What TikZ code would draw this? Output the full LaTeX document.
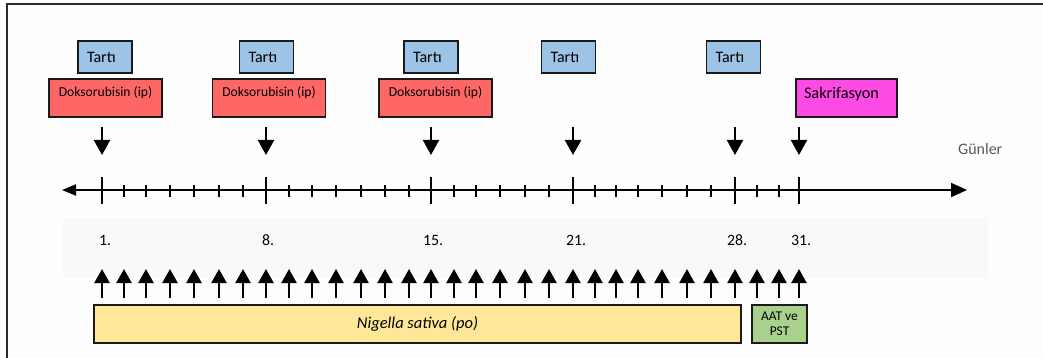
\documentclass[tikz,border=0pt]{standalone}
\usepackage{fontspec}
\setmainfont{Carlito}
\usetikzlibrary{arrows.meta}
\definecolor{tartiblue}{HTML}{9DC3E6}
\definecolor{doxred}{HTML}{FF6666}
\definecolor{sakmag}{HTML}{FF4BE6}
\definecolor{nsyellow}{HTML}{FFE699}
\definecolor{aatgreen}{HTML}{A9D18E}
\definecolor{bandgray}{HTML}{F9F9F9}
\definecolor{pagebg}{HTML}{FEFEFE}
\definecolor{framegray}{HTML}{2A2A2A}
\definecolor{labelgray}{HTML}{595959}
\definecolor{edgeblack}{HTML}{1A1A1A}
\tikzset{
  box/.style={draw=edgeblack, line width=1.3pt, inner sep=0pt, outer sep=0pt},
  tartibox/.style={box, fill=tartiblue, minimum width=54pt, minimum height=32pt,
    text width=36pt, inner xsep=9pt, align=left, font=\fontsize{16}{19}\selectfont},
  doxbox/.style={box, fill=doxred, minimum width=113pt, minimum height=38pt,
    text height=17.5pt, text depth=20.5pt, font=\fontsize{13.6}{16}\selectfont},
  sakbox/.style={box, fill=sakmag, minimum width=101pt, minimum height=38pt,
    text width=85pt, inner xsep=8pt, align=left, text height=20pt, text depth=18pt,
    font=\fontsize{16.3}{19}\selectfont},
  daylabel/.style={anchor=base west, inner sep=0pt, font=\fontsize{15.8}{18}\selectfont},
  downarr/.style={line width=2.2pt, -{Triangle[width=16pt,length=15pt]}},
  uparr/.style={line width=2.2pt, -{Triangle[width=15pt,length=14pt]}},
  majortick/.style={line width=1.6pt},
  minortick/.style={line width=1.4pt},
}
\begin{document}
\begin{tikzpicture}[x=1pt,y=-1pt]
\useasboundingbox (0,0) rectangle (1043,358);
\fill[pagebg] (0,0) rectangle (1043,358);
% gray band behind day numbers
\fill[bandgray] (63,218) rectangle (988,278);
% frame
\draw[framegray, line width=2pt] (7,360) -- (7,4) -- (1045,4);

% day positions
\foreach \x [count=\i] in {102,124,146,170,194,219,243,266,289,312,336,361,385,409,431,454,476,500,525,549,573,595,616,638,662,687,711,735,757,779,799}{
  \coordinate (day\i) at (\x,190);
}
% axis
\coordinate (axl) at (62,190);
\coordinate (axr) at (967,190);
\draw[line width=2pt, {Triangle[width=11pt,length=14pt]}-{Triangle[width=14pt,length=16pt]}] (axl) -- (axr);
% ticks
\foreach \i in {2,3,4,5,6,7,9,10,11,12,13,14,16,17,18,19,20,22,23,24,25,26,27,29,30}{
  \draw[minortick] ([yshift=5pt]day\i) -- ([yshift=-7pt]day\i);
}
\foreach \i in {1,8,15,21,28,31}{
  \draw[majortick] ([yshift=13pt]day\i) -- ([yshift=-14pt]day\i);
}
% down arrows
\foreach \i in {1,8,15,21,28,31}{
  \draw[downarr] ([yshift=63pt]day\i) -- ([yshift=35pt]day\i);
}
% up arrows
\foreach \i in {1,...,31}{
  \draw[uparr] ([yshift=-108pt]day\i) -- ([yshift=-79pt]day\i);
}

% top boxes
\node[tartibox] (ta1) at (105,57) {Tartı};
\node[tartibox] (ta2) at (266.5,57) {Tartı};
\node[tartibox] (ta3) at (431,57) {Tartı};
\node[tartibox] (ta4) at (568.5,57) {Tartı};
\node[tartibox] (ta5) at (733.5,57) {Tartı};
\node[doxbox] (dx1) at (105.5,98) {Doksorubisin (ip)};
\node[doxbox] (dx2) at (269,98) {Doksorubisin (ip)};
\node[doxbox] (dx3) at (435.5,98) {Doksorubisin (ip)};
\node[sakbox] (sak) at (846.5,98) {Sakrifasyon};

\node[anchor=base west, inner sep=0pt, text=labelgray, font=\fontsize{16}{19}\selectfont] (gun) at (958,155) {Günler};

% day labels
\node[daylabel] (l1) at (99,245.5) {1.};
\node[daylabel] (l8) at (262,245.5) {8.};
\node[daylabel] (l15) at (423,245.5) {15.};
\node[daylabel] (l21) at (566,245.5) {21.};
\node[daylabel] (l28) at (727,245.5) {28.};
\node[daylabel] (l31) at (791,245.5) {31.};

% bottom boxes
\node[box, fill=nsyellow, minimum width=647pt, minimum height=38pt,
  font=\fontsize{16.5}{19}\selectfont\itshape] (ns) at (417.5,324) {Nigella sativa (po)};
\node[box, fill=aatgreen, minimum width=55pt, minimum height=38pt, align=center,
  font=\fontsize{13.4}{15}\selectfont] (aat) at (779.5,324) {AAT ve\\PST};
\end{tikzpicture}
\end{document}
